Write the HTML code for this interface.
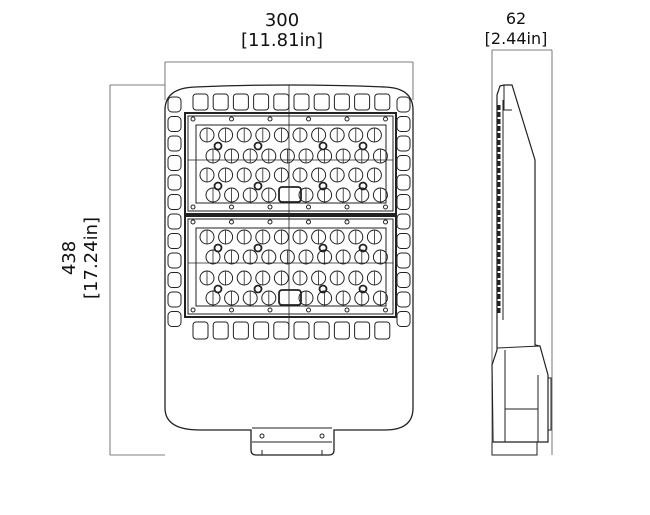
<!DOCTYPE html>
<html><head><meta charset="utf-8"><style>
html,body{margin:0;padding:0;background:#fff;width:650px;height:515px;overflow:hidden}
svg{display:block}
text{font-family:"DejaVu Sans","Liberation Sans",sans-serif;fill:#111}
</style></head><body>
<svg id="s" width="650" height="515" viewBox="0 0 650 515" xmlns="http://www.w3.org/2000/svg" fill="none" stroke="#222" stroke-width="1">
<text x="282" y="26" font-size="18" text-anchor="middle" stroke="none">300</text>
<text x="282" y="46" font-size="18" text-anchor="middle" stroke="none">[11.81in]</text>
<text x="516" y="24" font-size="16" text-anchor="middle" stroke="none">62</text>
<text x="516" y="44" font-size="16" text-anchor="middle" stroke="none">[2.44in]</text>
<text transform="translate(75,258) rotate(-90)" font-size="18" text-anchor="middle" stroke="none">438</text>
<text transform="translate(97,258) rotate(-90)" font-size="18" text-anchor="middle" stroke="none">[17.24in]</text>
<path d="M165 62 H413 M165 62 V100 M413 62 V100 M110 85 H165 M110 85 V455 M110 455 H165 M492 50 H552 M492 50 V455 M552 50 V455" stroke="#555" stroke-width="0.8"/>
<path d="M165 110 Q165 88 195 87 Q290 83 385 87 Q413 88 413 110 V408 Q413 430 385 430 H334 V450 Q334 455 329 455 H256 Q251 455 251 450 V430 H200 Q165 430 165 408 Z" stroke-width="1.3"/>
<path d="M252 428 H332 M252 442 H332 M262 455 V450 M322 455 V450" />
<circle cx="262" cy="436" r="2"/><circle cx="322" cy="436" r="2"/>
<path d="M289 85 V330" stroke-width="0.8"/>
<g id="g"></g>
<path d="M500 86 L504 85 H512 L535 160 V345 L540 346 L548 375 V442 H493 L492 365 L497 350 V95 Z" stroke-width="1.2"/>
<path d="M504 85 V110 H512 M503 100 V320 M497 348 L540 346 M505 350 V442 M505 409 H538 M538 375 V442 M548 378 H551 V430 H548 M492 442 V455 H537 V442"/>
<path d="M499 105 V315" stroke-width="3" stroke-dasharray="5 2"/>
</svg>
<script>
var g=document.getElementById('g'),o='';
function r(x,y,w,h,rx,sw){o+='<rect x="'+x+'" y="'+y+'" width="'+w+'" height="'+h+'" rx="'+rx+'" stroke-width="'+(sw||1)+'"/>';}
for(var i=0;i<10;i++){var x=193+i*20.2;r(x,94,15,16,3);r(x,322,15,17,3);}
for(var j=0;j<12;j++){var y=97+j*19.5;r(168,y,13,15,4);r(397,y,13,15,4);}
[[113,[135,156,175,195]],[216,[237,257,278,298]]].forEach(function(m){
 var t=m[0];
 r(185,t,211,101,0,2);r(188,t+3,205,95,0,1);r(196,t+12,190,78,0,1);
 o+='<path d="M188 '+(t+47)+' H393" stroke-width="0.8"/>';
 for(var k=0;k<6;k++){var cx=193+k*38.5;o+='<circle cx="'+cx+'" cy="'+(t+6)+'" r="2"/><circle cx="'+cx+'" cy="'+(t+94)+'" r="2"/>';}
 m[1].forEach(function(y,ri){
  for(var c=0;c<10;c++){var cx=(ri%2?213:207)+c*18.6;if(ri==3&&(c==4))continue;
   o+='<circle cx="'+cx+'" cy="'+y+'" r="7"/><path d="M'+cx+' '+(y-7)+' V'+(y+7)+'" stroke-width="0.8"/>';}
 });
 [218,258,323,363].forEach(function(x){o+='<circle cx="'+x+'" cy="'+(m[1][0]+11)+'" r="3.5" stroke-width="1.8"/><circle cx="'+x+'" cy="'+(m[1][2]+11)+'" r="3.5" stroke-width="1.8"/>';});
 r(279,m[1][3]-8,22,15,3,1.8);
});
g.innerHTML=o;
</script>
</body></html>
